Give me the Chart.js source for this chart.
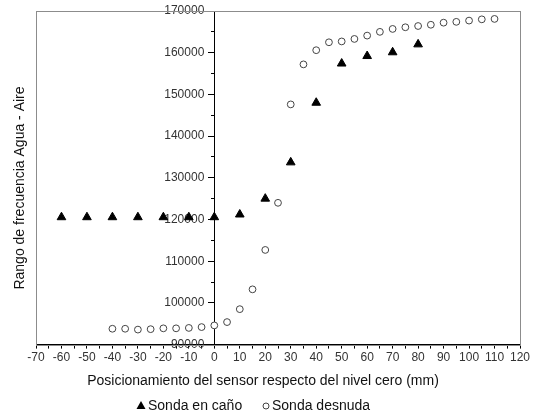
<!DOCTYPE html>
<html>
<head>
<meta charset="utf-8">
<script src="https://cdn.jsdelivr.net/npm/chart.js@4/dist/chart.umd.min.js"></script>
<style>
  html, body { margin: 0; padding: 0; background: #fff; }
  #wrap { width: 543px; height: 416px; }
</style>
</head>
<body>
<div id="wrap"><canvas id="chart" width="543" height="416"></canvas></div>
<script>
// Sonda en caño (triangles)
const canoX = [-60, -50, -40, -30, -20, -10, 0, 10, 20, 30, 40, 50, 60, 70, 80];
const canoY = [120550, 120550, 120550, 120550, 120550, 120550, 120550, 121200, 125000, 133700,
               148000, 157400, 159200, 160100, 162000];

// Sonda desnuda (circles)
const desnudaX = [-40, -35, -30, -25, -20, -15, -10, -5, 0, 5, 10, 15, 20, 25, 30, 35, 40,
                  45, 50, 55, 60, 65, 70, 75, 80, 85, 90, 95, 100, 105, 110];
const desnudaY = [93800, 93800, 93600, 93700, 93900, 93900, 94000, 94200, 94600, 95400,
                  98500, 103250, 112700, 124000, 147600, 157200, 160600, 162500, 162700,
                  163300, 164100, 165000, 165700, 166100, 166400, 166700, 167200, 167400,
                  167700, 168000, 168100];

const xTitle = 'Posicionamiento del sensor respecto del nivel cero (mm)';
const yTitle = 'Rango de frecuencia Agua - Aire';
const seriesNames = ['Sonda en caño', 'Sonda desnuda'];

const toPoints = (xs, ys) => xs.map((x, i) => ({ x: x, y: ys[i] }));

const FONT = '"Liberation Sans", Arial, sans-serif';

// gray frame, titles and legend
const decor = {
    id: 'decor',
    beforeDatasetsDraw(chart) {
        const { ctx, chartArea: a } = chart;
        ctx.save();
        ctx.strokeStyle = '#8c8c8c';
        ctx.lineWidth = 1;
        ctx.strokeRect(Math.round(a.left) + 0.5, Math.round(a.top) + 0.5,
            Math.round(a.right - a.left), Math.round(a.bottom - a.top));
        ctx.restore();
    },
    afterDraw(chart) {
        const ctx = chart.ctx;
        ctx.save();
        ctx.fillStyle = '#111';
        ctx.font = '14px ' + FONT;
        ctx.textBaseline = 'middle';
        ctx.textAlign = 'center';
        ctx.fillText(xTitle, 263, 381);

        ctx.save();
        ctx.translate(20, 188);
        ctx.rotate(-Math.PI / 2);
        ctx.fillText(yTitle, 0, 0);
        ctx.restore();

        // legend
        ctx.textAlign = 'left';
        const ly = 406;
        ctx.fillStyle = '#000';
        ctx.beginPath();
        ctx.moveTo(141, ly - 5);
        ctx.lineTo(145.5, ly + 3);
        ctx.lineTo(136.5, ly + 3);
        ctx.closePath();
        ctx.fill();
        ctx.fillStyle = '#111';
        ctx.fillText(seriesNames[0], 148, ly);

        ctx.strokeStyle = '#444';
        ctx.lineWidth = 1;
        ctx.beginPath();
        ctx.arc(266, ly, 3, 0, Math.PI * 2);
        ctx.stroke();
        ctx.fillText(seriesNames[1], 272, ly);
        ctx.restore();
    }
};

new Chart(document.getElementById('chart').getContext('2d'), {
    type: 'scatter',
    data: {
        datasets: [{
            label: seriesNames[0],
            data: toPoints(canoX, canoY),
            pointStyle: 'triangle',
            pointRadius: 5,
            pointHoverRadius: 5,
            backgroundColor: '#000',
            borderColor: '#000',
            borderWidth: 1
        }, {
            label: seriesNames[1],
            data: toPoints(desnudaX, desnudaY),
            pointStyle: 'circle',
            pointRadius: 3.4,
            pointHoverRadius: 3.4,
            backgroundColor: '#fff',
            borderColor: '#444',
            borderWidth: 1
        }]
    },
    options: {
        responsive: false,
        animation: false,
        layout: { padding: { left: 36, right: 23, top: 11, bottom: 49 } },
        plugins: {
            legend: { display: false },
            tooltip: { enabled: false }
        },
        scales: {
            x: {
                type: 'linear',
                min: -70,
                max: 120,
                grid: { drawOnChartArea: false, drawTicks: true, tickLength: 4, color: '#000' },
                border: { display: true, color: '#000', width: 1 },
                ticks: {
                    stepSize: 5,
                    autoSkip: false,
                    maxRotation: 0,
                    padding: 2,
                    color: '#333',
                    font: { family: FONT, size: 12 },
                    callback: (v) => (v % 10 === 0 ? String(v) : '')
                }
            },
            // minor ticks every 5000, no labels
            yMinor: {
                type: 'linear',
                position: { x: 0 },
                min: 90000,
                max: 170000,
                grid: { drawOnChartArea: false, drawTicks: true, tickLength: 3, color: '#000' },
                border: { display: false },
                ticks: {
                    stepSize: 5000,
                    autoSkip: false,
                    callback: () => ''
                }
            },
            y: {
                type: 'linear',
                position: { x: 0 },
                min: 90000,
                max: 170000,
                grid: { drawOnChartArea: false, drawTicks: true, tickLength: 6, color: '#000' },
                border: { display: true, color: '#000', width: 1 },
                ticks: {
                    stepSize: 10000,
                    autoSkip: false,
                    color: '#333',
                    font: { family: FONT, size: 12 },
                    // labels sit right on the axis line, trailing spaces give the gap
                    callback: (v) => String(v) + '   '
                }
            }
        }
    },
    plugins: [decor]
});
</script>
</body>
</html>
